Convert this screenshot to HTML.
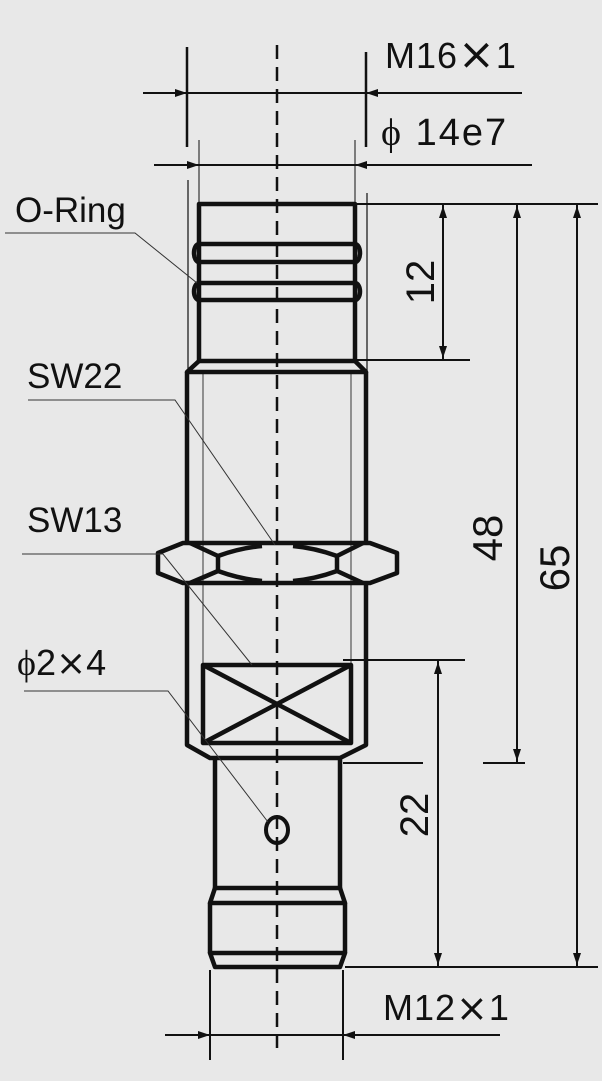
<!DOCTYPE html>
<html><head><meta charset="utf-8"><style>
html,body{margin:0;padding:0;background:#e8e8e8;}
svg{display:block;}
text{font-family:"Liberation Sans",sans-serif;fill:#111;}
.x{font-size:44px;font-weight:normal;}
</style></head><body>
<svg width="602" height="1081" viewBox="0 0 602 1081" xmlns="http://www.w3.org/2000/svg">
<rect width="602" height="1081" fill="#e8e8e8"/>
<defs>
<marker id="a" viewBox="0 0 12 8" refX="12" refY="4" markerWidth="12" markerHeight="8" markerUnits="userSpaceOnUse" orient="auto"><path d="M0,0 L12,4 L0,8 z" fill="#111"/></marker>
</defs>
<line x1="277" y1="45" x2="277" y2="1048" stroke="#111" stroke-width="2.5" stroke-dasharray="14,8"/>

<g stroke="#111" fill="none">
<line x1="187" y1="47" x2="187" y2="147" stroke-width="2.5"/>
<line x1="366" y1="52" x2="366" y2="147" stroke-width="2.5"/>
<line x1="143" y1="93" x2="187" y2="93" stroke-width="2" marker-end="url(#a)"/>
<line x1="522" y1="93" x2="366" y2="93" stroke-width="2" marker-end="url(#a)"/>
<line x1="187" y1="93" x2="366" y2="93" stroke-width="2"/>
<line x1="199" y1="140" x2="199" y2="204" stroke-width="1"/>
<line x1="355" y1="140" x2="355" y2="204" stroke-width="1"/>
<line x1="154" y1="165" x2="199" y2="165" stroke-width="2" marker-end="url(#a)"/>
<line x1="532" y1="165" x2="355" y2="165" stroke-width="2" marker-end="url(#a)"/>
<line x1="199" y1="165" x2="355" y2="165" stroke-width="2"/>
<line x1="188" y1="180" x2="188" y2="372" stroke-width="1.2"/>
<line x1="367" y1="193" x2="367" y2="372" stroke-width="1.2"/>
<line x1="203" y1="372" x2="203" y2="665" stroke-width="1.2" stroke="#555"/>
<line x1="351" y1="372" x2="351" y2="665" stroke-width="1.2" stroke="#555"/>

<g stroke-width="4.5" stroke-linejoin="round">
<path d="M199,362 L199,204 L355,204 L355,362"/>
<line x1="199" y1="244" x2="355" y2="244"/>
<line x1="199" y1="262" x2="355" y2="262"/>
<line x1="199" y1="283" x2="355" y2="283"/>
<line x1="199" y1="300" x2="355" y2="300"/>
<path d="M199,244 A5,9 0 0 0 199,262"/>
<path d="M355,244 A5,9 0 0 1 355,262"/>
<path d="M199,283 A5,8.5 0 0 0 199,300"/>
<path d="M355,283 A5,8.5 0 0 1 355,300"/>
<line x1="199" y1="361" x2="355" y2="361"/>
<path d="M199,361 L187,372 L366,372 L355,361"/>
<line x1="187" y1="372" x2="187" y2="543"/>
<line x1="366" y1="372" x2="366" y2="543"/>
<path d="M187,583 L187,745 L210,758 L340,758 L366,745 L366,583"/>
<path d="M158,553 L183,543 L370,543 L397,553 L397,573 L370,583 L183,583 L158,573 Z"/>
<path d="M190,543 L218,556 L218,571 L190,583"/>
<path d="M363,543 L337,556 L337,571 L363,583"/>
<path d="M218,556 Q240,548 262,546"/>
<path d="M218,571 Q240,579 262,581"/>
<path d="M337,556 Q315,548 293,546"/>
<path d="M337,571 Q315,579 293,581"/>
<rect x="203" y="665" width="148" height="78"/>
<line x1="203" y1="665" x2="351" y2="743"/>
<line x1="351" y1="665" x2="203" y2="743"/>
<path d="M215,758 L215,888 L340,888 L340,758"/>
<path d="M215,888 L210,903 L345,903 L340,888"/>
<path d="M210,903 L210,953"/>
<path d="M345,903 L345,953"/>
<path d="M210,953 L345,953 L340,967 L215,967 Z"/>
</g>
<ellipse cx="277" cy="830" rx="11" ry="13" stroke-width="4"/>

<line x1="355" y1="204" x2="598" y2="204" stroke-width="2"/>
<line x1="355" y1="360" x2="470" y2="360" stroke-width="2"/>
<line x1="443" y1="204" x2="443" y2="360" stroke-width="2"/>
<line x1="443" y1="240" x2="443" y2="206" stroke-width="2" marker-end="url(#a)"/>
<line x1="443" y1="320" x2="443" y2="358" stroke-width="2" marker-end="url(#a)"/>
<line x1="517" y1="204" x2="517" y2="763" stroke-width="2"/>
<line x1="517" y1="240" x2="517" y2="206" stroke-width="2" marker-end="url(#a)"/>
<line x1="517" y1="720" x2="517" y2="761" stroke-width="2" marker-end="url(#a)"/>
<line x1="577" y1="204" x2="577" y2="967" stroke-width="2"/>
<line x1="577" y1="240" x2="577" y2="206" stroke-width="2" marker-end="url(#a)"/>
<line x1="577" y1="930" x2="577" y2="965" stroke-width="2" marker-end="url(#a)"/>
<line x1="343" y1="660" x2="465" y2="660" stroke-width="2"/>
<line x1="438" y1="660" x2="438" y2="967" stroke-width="2"/>
<line x1="438" y1="700" x2="438" y2="662" stroke-width="2" marker-end="url(#a)"/>
<line x1="438" y1="930" x2="438" y2="965" stroke-width="2" marker-end="url(#a)"/>
<line x1="343" y1="763" x2="423" y2="763" stroke-width="2"/>
<line x1="483" y1="763" x2="525" y2="763" stroke-width="2"/>
<line x1="345" y1="967" x2="598" y2="967" stroke-width="2"/>

<line x1="210" y1="970" x2="210" y2="1060" stroke-width="2"/>
<line x1="343" y1="970" x2="343" y2="1060" stroke-width="2"/>
<line x1="165" y1="1035" x2="210" y2="1035" stroke-width="2" marker-end="url(#a)"/>
<line x1="500" y1="1035" x2="343" y2="1035" stroke-width="2" marker-end="url(#a)"/>
<line x1="210" y1="1035" x2="343" y2="1035" stroke-width="2"/>

<g stroke-width="1" stroke="#333">
<polyline points="5,233 135,233 197,283"/>
<polyline points="28,400 175,400 275,545"/>
<polyline points="22,554 163,554 252,665"/>
<polyline points="24,691 168,691 268,822"/>
</g>
</g>

<text x="385" y="68" font-size="36" letter-spacing="1">M16<tspan class="x" font-family="DejaVu Sans, sans-serif" font-size="38" dy="1">×</tspan><tspan dy="-1">1</tspan></text>
<text x="381" y="145" font-size="38" letter-spacing="2"><tspan font-family="Liberation Serif, serif">ϕ</tspan> 14e7</text>
<text x="15" y="222" font-size="35">O-Ring</text>
<text x="27" y="388" font-size="35">SW22</text>
<text x="27" y="532" font-size="35">SW13</text>
<text x="17" y="675" font-size="36"><tspan font-family="Liberation Serif, serif">ϕ</tspan>2<tspan font-family="DejaVu Sans, sans-serif" font-size="36">×</tspan>4</text>
<text x="383" y="1020" font-size="36" letter-spacing="1">M12<tspan font-family="DejaVu Sans, sans-serif" font-size="38" dy="1">×</tspan><tspan dy="-1">1</tspan></text>
<text transform="translate(434,282) rotate(-90)" font-size="40" text-anchor="middle">12</text>
<text transform="translate(502,538) rotate(-90)" font-size="42" text-anchor="middle">48</text>
<text transform="translate(569,568) rotate(-90)" font-size="42" text-anchor="middle">65</text>
<text transform="translate(428,815) rotate(-90)" font-size="40" text-anchor="middle">22</text>
</svg>
</body></html>
